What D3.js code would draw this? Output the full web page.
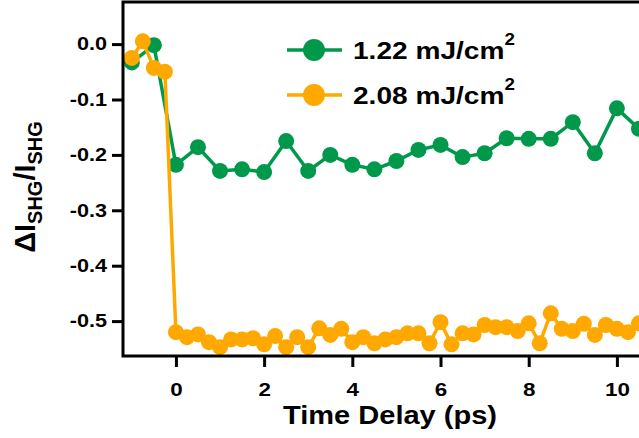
<!DOCTYPE html>
<html><head><meta charset="utf-8">
<script src="https://cdn.jsdelivr.net/npm/d3@7"></script>
<style>body{margin:0;background:#fff;}svg{display:block;font-family:"Liberation Sans",Arial,sans-serif;font-weight:bold;}</style>
</head><body>
<svg id="c" width="639" height="438"></svg>
<script>
const seriesNames = ["1.22 mJ/cm", "2.08 mJ/cm"];
const seriesColors = ["#00994C", "#FFA800"];
const greenTime = [-1.0,-0.5,0,0.5,1.0,1.5,2.0,2.5,3.0,3.5,4.0,4.5,5.0,5.5,6.0,6.5,7.0,7.5,8.0,8.5,9.0,9.5,10.0,10.5];
const greenValue = [-0.033,-0.002,-0.218,-0.186,-0.229,-0.226,-0.231,-0.175,-0.229,-0.200,-0.218,-0.226,-0.211,-0.191,-0.182,-0.204,-0.197,-0.170,-0.171,-0.171,-0.141,-0.197,-0.116,-0.153];
const orangeTime = [-1.0,-0.75,-0.5,-0.25,0,0.25,0.5,0.75,1.0,1.25,1.5,1.75,2.0,2.25,2.5,2.75,3.0,3.25,3.5,3.75,4.0,4.25,4.5,4.75,5.0,5.25,5.5,5.75,6.0,6.25,6.5,6.75,7.0,7.25,7.5,7.75,8.0,8.25,8.5,8.75,9.0,9.25,9.5,9.75,10.0,10.25,10.5];
const orangeValue = [-0.025,0.005,-0.043,-0.050,-0.520,-0.529,-0.524,-0.538,-0.547,-0.533,-0.533,-0.531,-0.542,-0.527,-0.547,-0.529,-0.547,-0.513,-0.525,-0.514,-0.538,-0.529,-0.540,-0.533,-0.529,-0.522,-0.522,-0.540,-0.502,-0.542,-0.522,-0.524,-0.507,-0.511,-0.511,-0.518,-0.504,-0.540,-0.486,-0.514,-0.518,-0.505,-0.525,-0.507,-0.514,-0.520,-0.504];
const xTicks = [0,2,4,6,8,10];
const yTicks = [0.0,-0.1,-0.2,-0.3,-0.4,-0.5];

const svg = d3.select("#c");
const L = 123, T = 2, R = 661, B = 356;
const x = d3.scaleLinear().domain([-1.2, 11]).range([L, R]);
const y = d3.scaleLinear().domain([0.076, -0.563]).range([T, B]);

function widen(sel, f) {
  sel.each(function() {
    const w = this.getComputedTextLength();
    d3.select(this).attr("textLength", w * f).attr("lengthAdjust", "spacingAndGlyphs");
  });
}

const plot = svg.append("g");
const series = [
  {t: greenTime, v: greenValue, c: seriesColors[0]},
  {t: orangeTime, v: orangeValue, c: seriesColors[1]}
];
const line = d3.line().x(d => x(d[0])).y(d => y(d[1]));
series.forEach(s => {
  const pts = s.t.map((t, i) => [t, s.v[i]]);
  const g = plot.append("g");
  g.append("path").datum(pts).attr("d", line).attr("fill", "none")
    .attr("stroke", s.c).attr("stroke-width", 3.5).attr("stroke-linejoin", "round");
  g.selectAll("circle").data(pts).join("circle")
    .attr("cx", d => x(d[0])).attr("cy", d => y(d[1])).attr("r", 8).attr("fill", s.c);
});

// frame
svg.append("rect").attr("x", L).attr("y", T).attr("width", R - L).attr("height", B - T)
  .attr("fill", "none").attr("stroke", "#000").attr("stroke-width", 3);

// y axis
const yAxis = svg.append("g").attr("transform", `translate(${L},0)`)
  .call(d3.axisLeft(y).tickValues(yTicks).tickSize(11).tickPadding(5).tickFormat(d3.format(".1f")));
yAxis.select(".domain").remove();
yAxis.selectAll("line").attr("stroke", "#000").attr("stroke-width", 3);
yAxis.selectAll("text").attr("font-size", 18).attr("font-weight", "bold").attr("fill", "#000")
  .attr("font-family", "Liberation Sans, Arial, sans-serif").text(d => d3.format(".1f")(d).replace("−", "-"));
widen(yAxis.selectAll("text"), 1.2);

// x axis
const xAxis = svg.append("g").attr("transform", `translate(0,${B})`)
  .call(d3.axisBottom(x).tickValues(xTicks).tickSize(11).tickPadding(16).tickFormat(d3.format("d")));
xAxis.select(".domain").remove();
xAxis.selectAll("line").attr("stroke", "#000").attr("stroke-width", 3);
xAxis.selectAll("text").attr("font-size", 19).attr("font-weight", "bold").attr("fill", "#000")
  .attr("font-family", "Liberation Sans, Arial, sans-serif");
widen(xAxis.selectAll("text"), 1.18);

// axis titles
const xt = svg.append("text").attr("x", 390).attr("y", 424).attr("text-anchor", "middle")
  .attr("font-size", 25).text("Time Delay (ps)");
xt.attr("textLength", 214).attr("lengthAdjust", "spacingAndGlyphs");

const yt = svg.append("text").attr("transform", "translate(35,187) rotate(-90)")
  .attr("text-anchor", "middle").attr("font-size", 29);
yt.append("tspan").text("ΔI");
yt.append("tspan").attr("font-size", 20).attr("dy", 7).text("SHG");
yt.append("tspan").attr("dy", -7).text("/I");
yt.append("tspan").attr("font-size", 20).attr("dy", 7).text("SHG");

// legend
const leg = svg.append("g");
[50, 95].forEach((ly, i) => {
  leg.append("line").attr("x1", 287).attr("x2", 342).attr("y1", ly).attr("y2", ly)
    .attr("stroke", seriesColors[i]).attr("stroke-width", 3.5);
  leg.append("circle").attr("cx", 314).attr("cy", ly).attr("r", 11).attr("fill", seriesColors[i]);
  const tx = leg.append("text").attr("x", 353).attr("y", ly + 9).attr("font-size", 24);
  tx.append("tspan").text(seriesNames[i]);
  tx.append("tspan").attr("font-size", 16).attr("dy", -14).text("2");
  widen(tx, 1.17);
});
</script>
</body></html>
